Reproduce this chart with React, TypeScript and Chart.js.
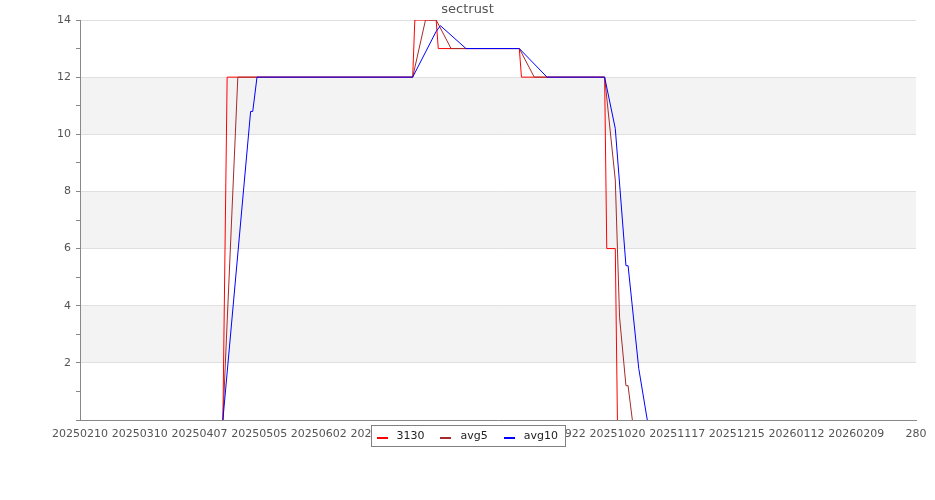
import React, { useEffect, useRef } from "react";
import { Chart, registerables } from "chart.js";

Chart.register(...registerables);

// ---- data ----
const START_DATE = "20250210";
const TICK_STEP_DAYS = 28;
const X_MAX_DAYS = 392;
const xTickLabels = [
  "20250210", "20250310", "20250407", "20250505", "20250602", "20250630",
  "20250728", "20250825", "20250922", "20251020", "20251117", "20251215",
  "20260112", "20260209", "280",
];
const yMin = 0;
const yMax = 14;

const s3130Dates = [
  "20250418", "20250420", "20250716", "20250717", "20250727", "20250728",
  "20250904", "20250905", "20251014", "20251015", "20251019", "20251020",
];
const s3130Values = [0, 12, 12, 14, 14, 13, 13, 12, 12, 6, 6, 0];

const avg5Dates = [
  "20250418", "20250425", "20250716", "20250722", "20250727", "20250803",
  "20250904", "20250911", "20251014", "20251019", "20251020", "20251021",
  "20251024", "20251025", "20251027",
];
const avg5Values = [0, 12, 12, 14, 14, 13, 13, 12, 12, 8.4, 6, 3.6, 1.2, 1.2, 0];

const avg10Dates = [
  "20250418", "20250501", "20250502", "20250504", "20250716", "20250727",
  "20250729", "20250810", "20250904", "20250917", "20251014", "20251019",
  "20251024", "20251025", "20251030", "20251103",
];
const avg10Values = [0, 10.8, 10.8, 12, 12, 13.6, 13.8, 13, 13, 12, 12, 10.2, 5.4, 5.4, 1.8, 0];

const seriesNames = ["3130", "avg5", "avg10"];
const seriesColors = ["#ff0000", "#a52a2a", "#0000ff"];
const titleText = "sectrust";

const FONT = "DejaVu Sans";
const TEXT_GRAY = "#545454";

function toUTC(s: string) {
  return Date.UTC(+s.slice(0, 4), +s.slice(4, 6) - 1, +s.slice(6, 8));
}
function dayOf(s: string) {
  return Math.round((toUTC(s) - toUTC(START_DATE)) / 86400000);
}
function pts(dates: string[], values: number[]) {
  return dates.map((d, i) => ({ x: dayOf(d), y: values[i] }));
}

const bandsPlugin = {
  id: "bands",
  beforeDraw(chart: any) {
    const { ctx, chartArea } = chart;
    const y = chart.scales.y;
    ctx.save();
    ctx.fillStyle = "#f3f3f3";
    for (let v = 2; v < yMax; v += 4) {
      const top = y.getPixelForValue(v + 2);
      const bot = y.getPixelForValue(v);
      ctx.fillRect(chartArea.left, top, chartArea.right - chartArea.left, bot - top);
    }
    ctx.restore();
  },
};

const overlayPlugin = {
  id: "overlay",
  afterDraw(chart: any) {
    const { ctx, chartArea, width } = chart;
    ctx.save();
    // title
    ctx.font = `13px "${FONT}"`;
    ctx.fillStyle = TEXT_GRAY;
    ctx.textAlign = "center";
    ctx.textBaseline = "middle";
    ctx.fillText(titleText, width / 2, 10);

    // legend
    ctx.font = `11px "${FONT}"`;
    const textWs = seriesNames.map((n) => ctx.measureText(n).width);
    const padL = 5, sw = 11, swGap = 9, itemGap = 16, padR = 8;
    let w = padL + padR + itemGap * (seriesNames.length - 1);
    textWs.forEach((t) => (w += sw + swGap + t));
    w = Math.round(w);
    const h = 21;
    const bx = Math.round((width - w) / 2) + 0.5;
    const by = Math.round(chartArea.bottom + 5) + 0.5;
    ctx.fillStyle = "#ffffff";
    ctx.fillRect(bx, by, w, h);
    ctx.strokeStyle = "#808080";
    ctx.lineWidth = 1;
    ctx.strokeRect(bx, by, w, h);
    let x = bx + padL;
    const cy = by + h / 2;
    seriesNames.forEach((n, i) => {
      ctx.fillStyle = seriesColors[i];
      ctx.fillRect(Math.round(x), Math.round(cy + 1), sw, 2);
      x += sw + swGap;
      ctx.fillStyle = "#222222";
      ctx.textAlign = "left";
      ctx.textBaseline = "middle";
      ctx.fillText(n, x, cy);
      x += textWs[i] + itemGap;
    });
    ctx.restore();
  },
};

export default function App() {
  const ref = useRef<HTMLCanvasElement | null>(null);

  useEffect(() => {
    document.body.style.margin = "0";
    const canvas = ref.current;
    if (!canvas) return;
    const data = [pts(s3130Dates, s3130Values), pts(avg5Dates, avg5Values), pts(avg10Dates, avg10Values)];
    const chart = new Chart(canvas, {
      type: "line",
      data: {
        datasets: seriesNames.map((name, i) => ({
          label: name,
          data: data[i],
          borderColor: seriesColors[i],
          backgroundColor: seriesColors[i],
          borderWidth: 1,
          pointRadius: 0,
          tension: 0,
          fill: false,
          order: 3 - i,
        })),
      },
      options: {
        animation: false,
        responsive: false,
        devicePixelRatio: 1,
        events: [],
        layout: { padding: { top: 20, right: 19, left: 0, bottom: 0 } },
        plugins: {
          legend: { display: false },
          title: { display: false },
          tooltip: { enabled: false },
        },
        scales: {
          x: {
            type: "linear",
            min: 0,
            max: X_MAX_DAYS,
            afterBuildTicks: (scale: any) => {
              scale.ticks = xTickLabels.map((_, i) => ({ value: i * TICK_STEP_DAYS }));
            },
            afterFit: (scale: any) => {
              scale.height = 80;
            },
            ticks: {
              autoSkip: false,
              maxRotation: 0,
              minRotation: 0,
              padding: 8,
              color: TEXT_GRAY,
              font: { family: FONT, size: 11 },
              callback: (_v: any, i: number) => xTickLabels[i],
            },
            grid: { display: true, color: "rgba(0,0,0,0)", drawTicks: false },
            border: { display: true, color: "#888888", width: 1 },
          },
          y: {
            min: yMin,
            max: yMax,
            afterFit: (scale: any) => {
              scale.width = 80;
            },
            ticks: {
              stepSize: 1,
              padding: 5,
              color: TEXT_GRAY,
              font: { family: FONT, size: 11 },
              callback: (v: any) => (v % 2 === 0 && v !== 0 ? String(v) : ""),
            },
            grid: {
              color: (c: any) => (c.tick && c.tick.value % 2 === 0 ? "#e0e0e0" : "rgba(0,0,0,0)"),
              tickColor: "#888888",
              tickLength: 4,
              drawTicks: true,
            },
            border: { display: true, color: "#888888", width: 1 },
          },
        },
      },
      plugins: [bandsPlugin, overlayPlugin],
    } as any);
    return () => chart.destroy();
  }, []);

  return (
    <div style={{ position: "absolute", left: 0, top: 0, width: 935, height: 500, background: "#fff" }}>
      <canvas ref={ref} width={935} height={500} style={{ display: "block" }} />
    </div>
  );
}
